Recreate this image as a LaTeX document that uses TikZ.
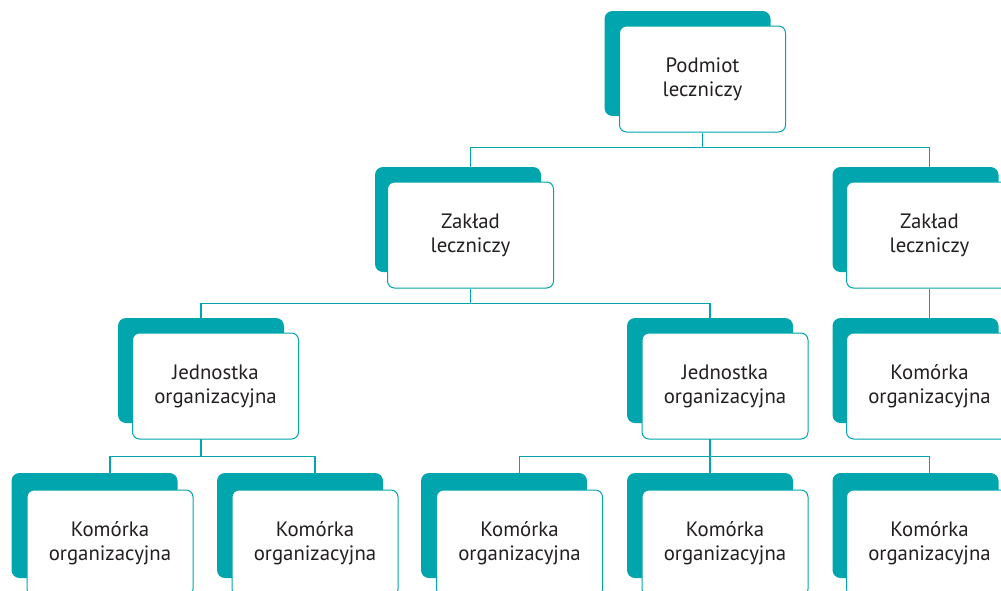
\documentclass[tikz,border=0pt]{standalone}
\usepackage{fontspec}
\setmainfont{PT Sans}
\usetikzlibrary{backgrounds}
\definecolor{teal1}{HTML}{00A5AD}
\definecolor{txt}{HTML}{231F20}
\begin{document}
\begin{tikzpicture}[x=1pt,y=-1pt,
 card/.style={draw=teal1, line width=1pt, fill=white, rounded corners=7pt, minimum width=166pt, minimum height=106pt, inner sep=0pt, align=center, text=txt, font=\fontsize{20.8}{24}\selectfont},
 shade/.style={fill=teal1, rounded corners=8pt, minimum width=166pt, minimum height=105pt, inner sep=0pt},
 link/.style={draw=teal1, line width=1.3pt}]
\useasboundingbox (0,0) rectangle (1001,590);
\clip (0,0) rectangle (1001,590);
% level 1
\node[shade] (ps) at (687.5,63.5) {};
\node[card] (p) at (702.5,79) {Podmiot\\leczniczy};
% level 2
\node[shade] (z1s) at (458,219.5) {};
\node[card] (z1) at (470.5,235) {Zakład\\leczniczy};
\node[shade] (z2s) at (915.5,219.5) {};
\node[card] (z2) at (929.5,235) {Zakład\\leczniczy};
% level 3
\node[shade] (j1s) at (201,370.5) {};
\node[card] (j1) at (215.5,386) {Jednostka\\organizacyjna};
\node[shade] (j2s) at (710,370.5) {};
\node[card] (j2) at (725,386) {Jednostka\\organizacyjna};
\node[shade] (k6s) at (915.5,370.5) {};
\node[card] (k6) at (929.5,386) {Komórka\\organizacyjna};
% level 4
\node[shade] (k1s) at (94.5,525.5) {};
\node[card] (k1) at (110,543) {Komórka\\organizacyjna};
\node[shade] (k2s) at (300,525.5) {};
\node[card] (k2) at (315,543) {Komórka\\organizacyjna};
\node[shade] (k3s) at (504,525.5) {};
\node[card] (k3) at (519.5,543) {Komórka\\organizacyjna};
\node[shade] (k4s) at (710,525.5) {};
\node[card] (k4) at (725,543) {Komórka\\organizacyjna};
\node[shade] (k5s) at (915.5,525.5) {};
\node[card] (k5) at (929.5,543) {Komórka\\organizacyjna};
% connectors
\begin{scope}[on background layer]
\draw[link] (p.south) -- ++(0,15) coordinate (pj) -| (z1.north);
\draw[link] (pj) -| (z2.north);
\draw[link] (z1.south) -- ++(0,15) coordinate (zj) -| (j1s.north);
\draw[link] (zj) -| (j2s.north);
\draw[link] (z2.south) -- (k6.north);
\draw[link] (j1s.south) -- ++(0,33) coordinate (j1j) -| (k1.north);
\draw[link] (j1j) -| (k2.north);
\draw[link] (j2s.south) -- ++(0,33) coordinate (j2j) -| (k3.north);
\draw[link] (j2j) -| (k4s.north);
\draw[link] (j2j) -| (k5.north);
\end{scope}
\end{tikzpicture}
\end{document}
